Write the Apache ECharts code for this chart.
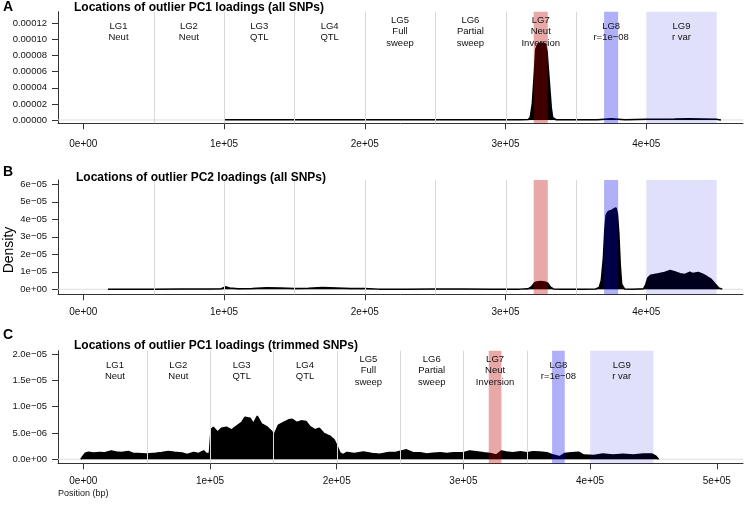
<!DOCTYPE html>
<html><head><meta charset="utf-8">
<script src="https://cdn.jsdelivr.net/npm/echarts@6/dist/echarts.min.js"></script>
<style>html,body{margin:0;padding:0;background:#fff}#c{width:744px;height:509px}</style>
</head><body><div id="c"></div>
<script>
// ---------- data ----------
const lgBounds = [50000, 100000, 150000, 200000, 250000, 300000, 350000];
const lgCenters = [25000, 75000, 125000, 175000, 225000, 275000, 325000, 375000, 425000];
const lgLabels = ['LG1\nNeut', 'LG2\nNeut', 'LG3\nQTL', 'LG4\nQTL', 'LG5\nFull\nsweep', 'LG6\nPartial\nsweep', 'LG7\nNeut\nInversion', 'LG8\nr=1e\u221208', 'LG9\nr var'];
const bandStarts = [320000, 370000, 400000];
const bandEnds = [330000, 380000, 450000];

const xTicksAB = [0, 100000, 200000, 300000, 400000];
const xLabelsAB = ['0e+00', '1e+05', '2e+05', '3e+05', '4e+05'];
const xTicksC = [0, 100000, 200000, 300000, 400000, 500000];
const xLabelsC = ['0e+00', '1e+05', '2e+05', '3e+05', '4e+05', '5e+05'];
const yTicksA = [0, 0.00002, 0.00004, 0.00006, 0.00008, 0.00010, 0.00012];
const yLabelsA = ['0.00000', '0.00002', '0.00004', '0.00006', '0.00008', '0.00010', '0.00012'];
const yTicksB = [0, 1e-5, 2e-5, 3e-5, 4e-5, 5e-5, 6e-5];
const yLabelsB = ['0e+00', '1e\u221205', '2e\u221205', '3e\u221205', '4e\u221205', '5e\u221205', '6e\u221205'];
const yTicksC = [0, 5e-6, 1e-5, 1.5e-5, 2e-5];
const yLabelsC = ['0.0e+00', '5.0e\u221206', '1.0e\u221205', '1.5e\u221205', '2.0e\u221205'];

// Panel A: PC1 outliers, all SNPs
const posA = [100000, 150000, 200000, 250000, 300000, 310000, 316000, 317500, 319000, 320500, 321500, 323000, 325000, 327000, 328500, 329500, 331000, 332500, 333500, 336000, 350000, 365000, 370000, 375000, 380000, 385000, 400000, 410000, 420000, 430000, 440000, 450000, 453000];
const densA = [0.3e-6, 0.3e-6, 0.3e-6, 0.2e-6, 0.2e-6, 0.2e-6, 0.5e-6, 3e-6, 2e-5, 6e-5, 8.8e-5, 9.4e-5, 9.55e-5, 9.5e-5, 9.3e-5, 8.5e-5, 5e-5, 1.5e-5, 3e-6, 0.3e-6, 0.2e-6, 0.3e-6, 1e-6, 1.5e-6, 1e-6, 0.3e-6, 0.8e-6, 1e-6, 1.2e-6, 1.5e-6, 1.2e-6, 0.8e-6, 0];

// Panel B: PC2 outliers, all SNPs
const posB = [17500, 30000, 50000, 70000, 90000, 98000, 101000, 104000, 110000, 120000,
  130000, 140000, 150000, 160000, 170000, 180000, 190000, 200000, 210000, 230000,
  250000, 270000, 290000, 310000, 316000, 318500, 320500, 322000, 325000, 328000,
  330000, 332000, 334000, 340000, 355000, 364000, 366500, 368000, 369500, 370500,
  371500, 373000, 375000, 377000, 378500, 379500, 380500, 381500, 382500, 384500,
  390000, 398000, 399500, 401000, 403000, 405000, 408000, 412000, 417000, 420000,
  424000, 427000, 431000, 433000, 437000, 440000, 443000, 446000, 449000, 451500,
  454000];
const densB = [0.1e-6, 0.1e-6, 0.1e-6, 0.2e-6, 0.2e-6, 0.3e-6, 1.4e-6, 0.8e-6, 0.3e-6, 0.5e-6,
  0.9e-6, 0.7e-6, 0.4e-6, 0.6e-6, 1.0e-6, 0.7e-6, 0.4e-6, 0.5e-6, 0.1e-6, 0.1e-6,
  0.2e-6, 0.2e-6, 0.1e-6, 0.1e-6, 0.3e-6, 1.5e-6, 3.6e-6, 4.2e-6, 4.4e-6, 4.2e-6,
  3.5e-6, 1.2e-6, 0.2e-6, 0.1e-6, 0.1e-6, 0.2e-6, 1.0e-6, 5e-6, 1.8e-5, 3.4e-5,
  4.25e-5, 4.45e-5, 4.5e-5, 4.6e-5, 4.65e-5, 4.3e-5, 3.2e-5, 1.4e-5, 3e-6, 0.2e-6,
  0.1e-6, 0.3e-6, 2.5e-6, 6.5e-6, 8.0e-6, 8.3e-6, 8.8e-6, 9.4e-6, 1.08e-5, 1.0e-5,
  8.9e-6, 8.4e-6, 9.8e-6, 9.0e-6, 9.6e-6, 8.6e-6, 7.3e-6, 5.8e-6, 3.0e-6, 0.8e-6,
  0.1e-6];

// Panel C: PC1 outliers, trimmed SNPs
const posC = [-2000, 1500, 4000, 8000, 13000, 17000, 22000, 26000, 30000, 35500,
  39500, 43000, 50000, 57000, 62000, 67000, 72000, 78000, 82000, 87000,
  91000, 95000, 97000, 99500, 100800, 102600, 106000, 109000, 113000, 117000,
  122000, 125000, 127600, 131600, 134200, 137300, 140800, 144700, 148700, 150500,
  154000, 158000, 162000, 165000, 168400, 172000, 175800, 179000, 183000, 186300,
  190000, 194700, 198000, 200500, 202600, 205000, 208000, 214000, 221000, 228000,
  234000, 241000, 247000, 251000, 255000, 260000, 266000, 271000, 276000, 282000,
  287000, 292000, 300000, 305000, 310000, 316000, 321000, 326000, 330000, 334000,
  339000, 345000, 350000, 355000, 360000, 366000, 371000, 376000, 380000, 385000,
  391000, 395000, 403000, 410000, 418000, 426000, 434000, 442000, 449000, 452000,
  454000];
const densC = [0, 1.15e-6, 1.33e-6, 1.2e-6, 1.3e-6, 1.25e-6, 1.6e-6, 1.4e-6, 1.3e-6, 1.5e-6,
  1.1e-6, 1.1e-6, 1.0e-6, 1.15e-6, 1.3e-6, 1.5e-6, 1.35e-6, 1.2e-6, 0.9e-6, 1.3e-6,
  1.1e-6, 1.6e-6, 1.1e-6, 1.1e-6, 5.6e-6, 6.1e-6, 5.2e-6, 5.9e-6, 6.1e-6, 5.6e-6,
  6.5e-6, 7.0e-6, 8.0e-6, 7.8e-6, 6.8e-6, 8.2e-6, 6.7e-6, 6.2e-6, 5.3e-6, 4.6e-6,
  6.5e-6, 7.0e-6, 7.5e-6, 7.6e-6, 7.0e-6, 7.3e-6, 7.2e-6, 6.2e-6, 5.6e-6, 5.9e-6,
  4.9e-6, 4.4e-6, 3.7e-6, 2.4e-6, 1.2e-6, 0.9e-6, 1.3e-6, 1.1e-6, 1.4e-6, 1.1e-6,
  0.95e-6, 1.3e-6, 1.35e-6, 1.6e-6, 1.8e-6, 1.3e-6, 1.25e-6, 1.0e-6, 1.15e-6, 1.25e-6,
  1.1e-6, 1.25e-6, 1.25e-6, 1.6e-6, 1.45e-6, 1.25e-6, 1.1e-6, 0.8e-6, 1.6e-6, 1.4e-6,
  1.25e-6, 1.45e-6, 1.25e-6, 1.45e-6, 1.4e-6, 1.25e-6, 0.8e-6, 0.5e-6, 1.1e-6, 1.25e-6,
  1.35e-6, 0.8e-6, 0.7e-6, 1.0e-6, 0.8e-6, 0.95e-6, 0.8e-6, 1.0e-6, 1.0e-6, 0.6e-6,
  0];

// ---------- chart ----------
const FONT = '"Liberation Sans", Arial, Helvetica, sans-serif';
const bandColors = ['rgba(190,0,0,0.34)', 'rgba(0,0,232,0.31)', 'rgba(0,0,216,0.12)'];

const panels = [
  { grid: { left: 58, top: 11.7, width: 685, height: 111.6 }, xmin: -17975, xmax: 468700, ymin: -4.1e-6, ymax: 1.344e-4,
    xt: xTicksAB, xl: xLabelsAB, yt: yTicksA, yl: yLabelsA, pos: posA, dens: densA, labels: true, xMargin: 16 },
  { grid: { left: 58, top: 180, width: 685, height: 114.3 }, xmin: -17975, xmax: 468700, ymin: -2.857e-6, ymax: 6.246e-5,
    xt: xTicksAB, xl: xLabelsAB, yt: yTicksB, yl: yLabelsB, pos: posB, dens: densB, labels: false, xMargin: 13 },
  { grid: { left: 58, top: 350.7, width: 685, height: 112.6 }, xmin: -19970, xmax: 520680, ymin: -7.6e-7, ymax: 2.0627e-5,
    xt: xTicksC, xl: xLabelsC, yt: yTicksC, yl: yLabelsC, pos: posC, dens: densC, labels: true, xMargin: 12.5 }
];

function lookup(ticks, labels) {
  return function (v) {
    for (let i = 0; i < ticks.length; i++) {
      if (Math.abs(ticks[i] - v) <= Math.abs(ticks[ticks.length - 1]) * 1e-6) return labels[i];
    }
    return '';
  };
}

const grids = [], xAxes = [], yAxes = [], series = [];
panels.forEach((p, k) => {
  grids.push(p.grid);
  xAxes.push({
    type: 'value', gridIndex: k, min: p.xmin, max: p.xmax,
    axisLine: { show: true, onZero: false, lineStyle: { color: '#333', width: 1 } },
    axisTick: { show: true, length: 6, customValues: p.xt, lineStyle: { color: '#333' } },
    axisLabel: { customValues: p.xt, formatter: lookup(p.xt, p.xl), fontSize: 10, margin: p.xMargin, color: '#111', fontFamily: FONT },
    splitLine: { show: false }
  });
  yAxes.push({
    type: 'value', gridIndex: k, min: p.ymin, max: p.ymax,
    axisLine: { show: true, onZero: false, lineStyle: { color: '#333', width: 1 } },
    axisTick: { show: true, length: 6, customValues: p.yt, lineStyle: { color: '#333' } },
    axisLabel: { customValues: p.yt, formatter: lookup(p.yt, p.yl), fontSize: 9.5, margin: 11, color: '#111', fontFamily: FONT },
    splitLine: { show: false }
  });
  // zero reference line
  series.push({
    type: 'custom', xAxisIndex: k, yAxisIndex: k, z: 1, silent: true,
    data: [[0, 0]],
    renderItem: function (params, api) {
      const cs = params.coordSys; const y = api.coord([0, 0])[1];
      return { type: 'line', shape: { x1: cs.x, y1: y, x2: cs.x + cs.width, y2: y }, style: { stroke: '#dedede', lineWidth: 1 } };
    }
  });
  // density
  series.push({
    type: 'line', xAxisIndex: k, yAxisIndex: k, z: 2, silent: true,
    data: p.pos.map((x, i) => [x, p.dens[i]]),
    showSymbol: false, symbol: 'none', smooth: false,
    lineStyle: { color: '#000', width: 1.5 },
    areaStyle: { color: '#000', opacity: 1 }
  });
  // chromosome boundaries
  series.push({
    type: 'custom', xAxisIndex: k, yAxisIndex: k, z: 3, silent: true,
    data: lgBounds.map(b => [b, 0]),
    renderItem: function (params, api) {
      const cs = params.coordSys; const x = Math.round(api.coord([api.value(0), 0])[0]) + 0.5;
      return { type: 'line', shape: { x1: x, y1: cs.y, x2: x, y2: cs.y + cs.height }, style: { stroke: '#d9d9d9', lineWidth: 1 } };
    }
  });
  // highlighted bands
  series.push({
    type: 'custom', xAxisIndex: k, yAxisIndex: k, z: 4, silent: true,
    data: bandStarts.map((s, i) => [s, bandEnds[i]]),
    encode: { x: [0, 1] },
    renderItem: function (params, api) {
      const cs = params.coordSys;
      const s = api.coord([api.value(0), 0])[0], e = api.coord([api.value(1), 0])[0];
      return { type: 'rect', shape: { x: s, y: cs.y, width: e - s, height: cs.height }, style: { fill: bandColors[params.dataIndex] } };
    }
  });
  if (p.labels) {
    series.push({
      type: 'custom', xAxisIndex: k, yAxisIndex: k, z: 5, silent: true,
      data: lgCenters.map(c => [c, 0]),
      renderItem: function (params, api) {
        const cs = params.coordSys; const x = api.coord([api.value(0), 0])[0];
        return { type: 'text', x: x, y: cs.y + 20, style: { text: lgLabels[params.dataIndex], textAlign: 'center', textVerticalAlign: 'middle', fontSize: 9.5, lineHeight: 11.3, fontFamily: FONT, fill: '#111' } };
      }
    });
  }
});

const titleStyle = { fontSize: 12, fontWeight: 'bold', color: '#000', fontFamily: FONT };
const letterStyle = { fontSize: 14, fontWeight: 'bold', color: '#000', fontFamily: FONT };
const chart = echarts.init(document.getElementById('c'), null, { renderer: 'canvas' });
chart.setOption({
  animation: false,
  backgroundColor: '#fff',
  title: [
    { text: 'A', left: 3, top: 0, padding: 0, textStyle: letterStyle },
    { text: 'B', left: 3, top: 165, padding: 0, textStyle: letterStyle },
    { text: 'C', left: 3, top: 328, padding: 0, textStyle: letterStyle },
    { text: 'Locations of outlier PC1 loadings (all SNPs)', left: 74, top: 1.5, padding: 0, textStyle: titleStyle },
    { text: 'Locations of outlier PC2 loadings (all SNPs)', left: 76, top: 172, padding: 0, textStyle: titleStyle },
    { text: 'Locations of outlier PC1 loadings (trimmed SNPs)', left: 74, top: 339.5, padding: 0, textStyle: titleStyle }
  ],
  grid: grids, xAxis: xAxes, yAxis: yAxes, series: series,
  graphic: [
    { type: 'text', x: 9, y: 250, rotation: Math.PI / 2, style: { text: 'Density', fontSize: 14, fontFamily: FONT, fill: '#000', textAlign: 'center', textVerticalAlign: 'middle' } },
    { type: 'text', x: 58, y: 494, style: { text: 'Position (bp)', fontSize: 9, fontFamily: FONT, fill: '#111', textAlign: 'left', textVerticalAlign: 'middle' } }
  ]
});
</script></body></html>
